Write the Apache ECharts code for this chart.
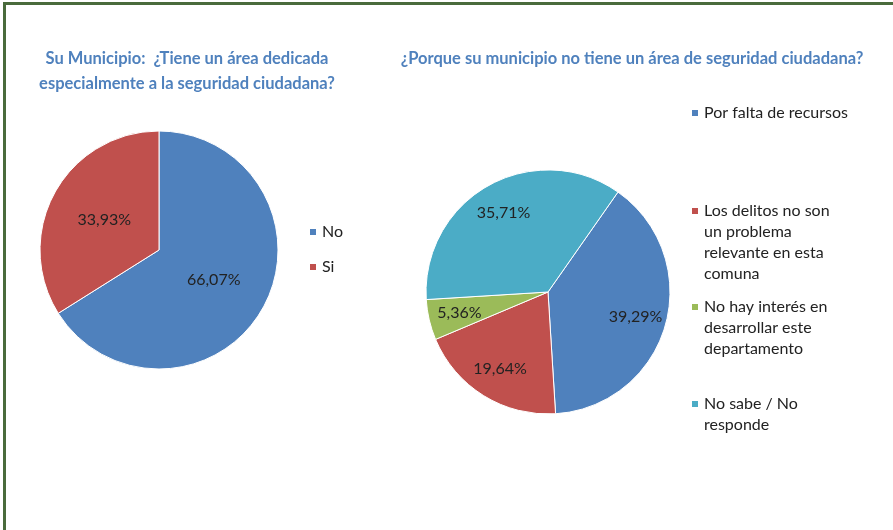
<!DOCTYPE html>
<html>
<head>
<meta charset="utf-8">
<script src="https://cdn.jsdelivr.net/npm/echarts@6/dist/echarts.min.js"></script>
<style>
  html, body { margin: 0; padding: 0; background: #fff; }
  #frame { position: absolute; left: 3px; top: 2px; width: 900px; height: 540px;
           border-top: 3px solid #4a6b3c; border-left: 3px solid #4a6b3c; }
  #chart { position: absolute; left: 0; top: 0; width: 893px; height: 530px; }
</style>
</head>
<body>
<div id="frame"></div>
<div id="chart"></div>
<script>
// datos del grafico izquierdo
var areaCategorias = ['No', 'Si'];
var areaValores = [66.07, 33.93];

// datos del grafico derecho
var motivoCategorias = [
  'Por falta de recursos',
  'Los delitos no son un problema relevante en esta comuna',
  'No hay interés en desarrollar este departamento',
  'No sabe / No responde'
];
var motivoValores = [39.29, 19.64, 5.36, 35.71];
// texto de leyenda en varias lineas
var motivoLeyenda = [
  ['Por falta de recursos'],
  ['Los delitos no son', 'un problema', 'relevante en esta', 'comuna'],
  ['No hay interés en', 'desarrollar este', 'departamento'],
  ['No sabe / No', 'responde']
];

var colores = ['#4F81BD', '#C0504D', '#9BBB59', '#4BACC6'];
var fuente = 'Lato';

function pct(v) { return v.toFixed(2).replace('.', ',') + '%'; }

var myChart = echarts.init(document.getElementById('chart'));

var areaData = areaCategorias.map(function (c, i) {
  return { name: c, value: areaValores[i], itemStyle: { color: colores[i] } };
});
var motivoData = motivoCategorias.map(function (c, i) {
  return { name: c, value: motivoValores[i], itemStyle: { color: colores[i] } };
});

// leyendas del grafico derecho: una por item, icono alineado con la primera linea
var iconY = [113, 211, 307, 404];
var lh = 21;
var motivoLegends = motivoCategorias.map(function (c, i) {
  var n = motivoLeyenda[i].length;
  return {
    left: 690,
    top: iconY[i] - (2 * n - 1) * lh / 2,
    padding: 0,
    orient: 'vertical',
    data: [c],
    icon: 'rect',
    itemWidth: 8,
    itemHeight: 8,
    itemGap: 0,
    selectedMode: false,
    formatter: function () {
      return new Array(n).join('\n') + motivoLeyenda[i].join('\n');
    },
    textStyle: { fontFamily: fuente, fontSize: 16, color: '#222', lineHeight: lh }
  };
});

var option = {
  animation: false,
  title: [
    {
      text: 'Su Municipio:  ¿Tiene un área dedicada\nespecialmente a la seguridad ciudadana?',
      left: 187,
      top: 46,
      padding: 0,
      textAlign: 'center',
      textStyle: { fontFamily: fuente, fontSize: 16.5, fontWeight: 'bold', color: '#4F81BD', lineHeight: 25 }
    },
    {
      text: '¿Porque su municipio no tiene un área de seguridad ciudadana?',
      left: 632,
      top: 46,
      padding: 0,
      textAlign: 'center',
      textStyle: { fontFamily: fuente, fontSize: 16.5, fontWeight: 'bold', color: '#4F81BD', lineHeight: 25 }
    }
  ],
  legend: [
    {
      left: 308,
      top: 223,
      padding: 0,
      orient: 'vertical',
      data: areaCategorias,
      icon: 'rect',
      itemWidth: 8,
      itemHeight: 8,
      itemGap: 17,
      selectedMode: false,
      textStyle: { fontFamily: fuente, fontSize: 16, color: '#222', lineHeight: 18 }
    }
  ].concat(motivoLegends),
  series: [
    {
      type: 'pie',
      center: [159, 250],
      radius: [0, 119],
      startAngle: 90,
      clockwise: true,
      data: areaData,
      itemStyle: { borderColor: '#fff', borderWidth: 1 },
      label: {
        position: 'inside',
        formatter: function (p) { return pct(p.value); },
        fontFamily: fuente, fontSize: 16, color: '#222'
      },
      labelLine: { show: false },
      emphasis: { disabled: true }
    },
    {
      type: 'pie',
      center: [548, 292],
      radius: [0, 122],
      startAngle: 55,
      clockwise: true,
      data: motivoData,
      itemStyle: { borderColor: '#fff', borderWidth: 1 },
      label: { show: false },
      labelLine: { show: false },
      emphasis: { disabled: true }
    },
    {
      // capa transparente solo para ubicar las etiquetas mas afuera
      type: 'pie',
      center: [548, 292],
      radius: [0, 176],
      startAngle: 55,
      clockwise: true,
      silent: true,
      data: motivoData.map(function (d) {
        return { name: d.name, value: d.value, itemStyle: { color: 'rgba(0,0,0,0)' } };
      }),
      label: {
        position: 'inside',
        formatter: function (p) { return pct(p.value); },
        fontFamily: fuente, fontSize: 16, color: '#222'
      },
      labelLine: { show: false },
      emphasis: { disabled: true }
    }
  ]
};

myChart.setOption(option);
</script>
</body>
</html>
